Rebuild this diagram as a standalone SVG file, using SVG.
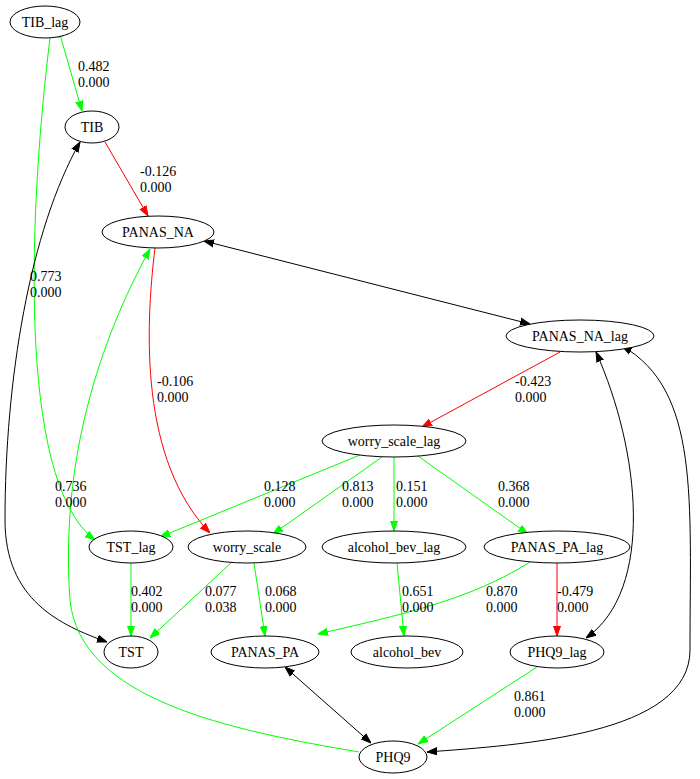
<svg xmlns="http://www.w3.org/2000/svg" width="700" height="779" viewBox="0 0 700 779">
<style>
text{font-family:"Liberation Serif","Times New Roman",serif;font-size:14px;fill:#000}
.n ellipse{fill:#fff;stroke:#000;stroke-width:1}
.n text{text-anchor:middle}
.e path{fill:none;stroke-width:1}
.g{stroke:#00ff00}.r{stroke:#ff0000}.k{stroke:#000}
</style>
<defs>
<marker id="ag" viewBox="0 0 10 10" refX="10" refY="5" markerWidth="10" markerHeight="10" markerUnits="userSpaceOnUse" orient="auto-start-reverse"><path d="M0,1.5L10,5L0,8.5z" fill="#00ff00" stroke="#00ff00"/></marker>
<marker id="ar" viewBox="0 0 10 10" refX="10" refY="5" markerWidth="10" markerHeight="10" markerUnits="userSpaceOnUse" orient="auto-start-reverse"><path d="M0,1.5L10,5L0,8.5z" fill="#ff0000" stroke="#ff0000"/></marker>
<marker id="ak" viewBox="0 0 10 10" refX="10" refY="5" markerWidth="10" markerHeight="10" markerUnits="userSpaceOnUse" orient="auto-start-reverse"><path d="M0,1.5L10,5L0,8.5z" fill="#000" stroke="#000"/></marker>
<marker id="oc" viewBox="0 0 10 10" refX="0" refY="5" markerWidth="10" markerHeight="10" markerUnits="userSpaceOnUse" orient="auto-start-reverse"><circle cx="5" cy="5" r="4" fill="none" stroke="#00ff00"/></marker>
</defs>
<g id="edges" class="e">
<path class="g" d="M61,38L82,111" marker-start="url(#oc)" marker-end="url(#ag)"/>
<path class="g" d="M50,38C30,200 15,480 95,540" marker-start="url(#oc)" marker-end="url(#ag)"/>
<path class="r" d="M105,142L148,216" marker-end="url(#ar)"/>
<path class="k" d="M204,241L530,324" marker-start="url(#ak)" marker-end="url(#ak)"/>
<path class="r" d="M155,248C145,330 140,460 210,533" marker-end="url(#ar)"/>
<path class="r" d="M560,352L422,427" marker-end="url(#ar)"/>
<path class="g" d="M360,455L160,537" marker-end="url(#ag)"/>
<path class="g" d="M382,457L273,534" marker-end="url(#ag)"/>
<path class="g" d="M394,457L394,531" marker-end="url(#ag)"/>
<path class="g" d="M418,456L528,534" marker-end="url(#ag)"/>
<path class="k" d="M596,352C640,450 655,590 586,638" marker-start="url(#ak)" marker-end="url(#ak)"/>
<path class="k" d="M622,346C700,390 690,500 690,650C690,735 520,745 427,752" marker-start="url(#ak)" marker-end="url(#ak)"/>
<path class="k" d="M80,142C30,230 5,380 5,520C5,600 60,625 107,642" marker-start="url(#ak)" marker-end="url(#ak)"/>
<path class="g" d="M359,752C230,730 80,700 70,600C60,460 100,340 150,249" marker-end="url(#ag)"/>
<path class="g" d="M131,563L131,636" marker-end="url(#ag)"/>
<path class="g" d="M232,562L150,638" marker-end="url(#ag)"/>
<path class="g" d="M254,563L265,636" marker-end="url(#ag)"/>
<path class="g" d="M530,562C470,600 400,615 318,634" marker-end="url(#ag)"/>
<path class="r" d="M557,563L557,636" marker-end="url(#ar)"/>
<path class="g" d="M397,563L404,636" marker-end="url(#ag)"/>
<path class="k" d="M285,667L371,743" marker-start="url(#ak)" marker-end="url(#ak)"/>
<path class="g" d="M537,667L418,744" marker-end="url(#ag)"/>
</g>
<g id="labels">
<text x="78" y="71">0.482</text><text x="78" y="87">0.000</text>
<text x="30" y="281">0.773</text><text x="30" y="297">0.000</text>
<text x="140" y="176">-0.126</text><text x="140" y="192">0.000</text>
<text x="157" y="386">-0.106</text><text x="157" y="402">0.000</text>
<text x="515" y="386">-0.423</text><text x="515" y="402">0.000</text>
<text x="264" y="491">0.128</text><text x="264" y="507">0.000</text>
<text x="342" y="491">0.813</text><text x="342" y="507">0.000</text>
<text x="396" y="491">0.151</text><text x="396" y="507">0.000</text>
<text x="498" y="491">0.368</text><text x="498" y="507">0.000</text>
<text x="55" y="491">0.736</text><text x="55" y="507">0.000</text>
<text x="131" y="596">0.402</text><text x="131" y="612">0.000</text>
<text x="205" y="596">0.077</text><text x="205" y="612">0.038</text>
<text x="265" y="596">0.068</text><text x="265" y="612">0.000</text>
<text x="486" y="596">0.870</text><text x="486" y="612">0.000</text>
<text x="557" y="596">-0.479</text><text x="557" y="612">0.000</text>
<text x="402" y="596">0.651</text><text x="402" y="612">0.000</text>
<text x="514" y="701">0.861</text><text x="514" y="717">0.000</text>
</g>
<g id="TIB_lag" class="n"><ellipse cx="45" cy="22" rx="35" ry="16"/><text x="45" y="27">TIB_lag</text></g>
<g id="TIB" class="n"><ellipse cx="92" cy="127" rx="27" ry="16"/><text x="92" y="132">TIB</text></g>
<g id="PANAS_NA" class="n"><ellipse cx="158" cy="232" rx="56" ry="16"/><text x="158" y="237">PANAS_NA</text></g>
<g id="PANAS_NA_lag" class="n"><ellipse cx="580" cy="336" rx="74" ry="16"/><text x="580" y="341">PANAS_NA_lag</text></g>
<g id="worry_scale_lag" class="n"><ellipse cx="394" cy="441" rx="72" ry="16"/><text x="394" y="446">worry_scale_lag</text></g>
<g id="TST_lag" class="n"><ellipse cx="131" cy="547" rx="42" ry="16"/><text x="131" y="552">TST_lag</text></g>
<g id="worry_scale" class="n"><ellipse cx="247" cy="547" rx="59" ry="16"/><text x="247" y="552">worry_scale</text></g>
<g id="alcohol_bev_lag" class="n"><ellipse cx="394" cy="547" rx="72" ry="16"/><text x="394" y="552">alcohol_bev_lag</text></g>
<g id="PANAS_PA_lag" class="n"><ellipse cx="557" cy="547" rx="73" ry="16"/><text x="557" y="552">PANAS_PA_lag</text></g>
<g id="TST" class="n"><ellipse cx="131" cy="652" rx="27" ry="16"/><text x="131" y="657">TST</text></g>
<g id="PANAS_PA" class="n"><ellipse cx="265" cy="652" rx="54" ry="16"/><text x="265" y="657">PANAS_PA</text></g>
<g id="alcohol_bev" class="n"><ellipse cx="407" cy="652" rx="56" ry="16"/><text x="407" y="657">alcohol_bev</text></g>
<g id="PHQ9_lag" class="n"><ellipse cx="557" cy="652" rx="47" ry="16"/><text x="557" y="657">PHQ9_lag</text></g>
<g id="PHQ9" class="n"><ellipse cx="393" cy="757" rx="34" ry="16"/><text x="393" y="762">PHQ9</text></g>
</svg>
